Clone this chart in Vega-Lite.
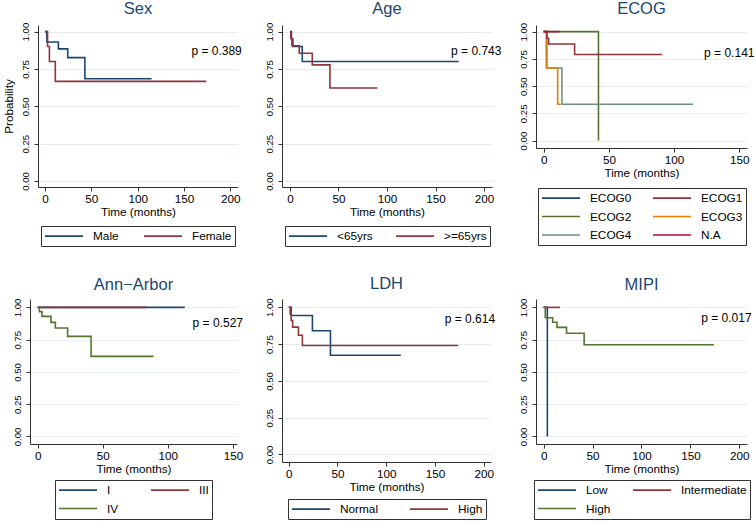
{
  "$schema": "https://vega.github.io/schema/vega-lite/v6.json",
  "padding": {"left": 3, "top": 0, "right": 0, "bottom": 0},
  "background": "white",
  "datasets": {
    "sex": [
      {"g": "Male", "t": 0, "s": 1}, {"g": "Male", "t": 2, "s": 0.93}, {"g": "Male", "t": 14.4, "s": 0.884}, {"g": "Male", "t": 24.5, "s": 0.826}, {"g": "Male", "t": 43, "s": 0.684}, {"g": "Male", "t": 115, "s": 0.684},
      {"g": "Female", "t": 0, "s": 1}, {"g": "Female", "t": 2.7, "s": 0.9}, {"g": "Female", "t": 4.7, "s": 0.8}, {"g": "Female", "t": 11.1, "s": 0.667}, {"g": "Female", "t": 174, "s": 0.667}
    ],
    "age": [
      {"g": "<65yrs", "t": 0, "s": 1}, {"g": "<65yrs", "t": 1.5, "s": 0.95}, {"g": "<65yrs", "t": 3, "s": 0.9}, {"g": "<65yrs", "t": 12.7, "s": 0.8}, {"g": "<65yrs", "t": 174, "s": 0.8},
      {"g": ">=65yrs", "t": 0, "s": 1}, {"g": ">=65yrs", "t": 0.8, "s": 0.955}, {"g": ">=65yrs", "t": 2, "s": 0.905}, {"g": ">=65yrs", "t": 9.6, "s": 0.855}, {"g": ">=65yrs", "t": 23, "s": 0.777}, {"g": ">=65yrs", "t": 41.2, "s": 0.622}, {"g": ">=65yrs", "t": 90, "s": 0.622}
    ],
    "ecog": [
      {"g": "ECOG0", "t": 0, "s": 1}, {"g": "ECOG0", "t": 2, "s": 1},
      {"g": "ECOG2", "t": 0, "s": 1}, {"g": "ECOG2", "t": 42, "s": 0},
      {"g": "ECOG4", "t": 0, "s": 1}, {"g": "ECOG4", "t": 2, "s": 0.667}, {"g": "ECOG4", "t": 14, "s": 0.333}, {"g": "ECOG4", "t": 114.5, "s": 0.333},
      {"g": "ECOG3", "t": 0, "s": 1}, {"g": "ECOG3", "t": 2.5, "s": 0.667}, {"g": "ECOG3", "t": 10.7, "s": 0.333}, {"g": "ECOG3", "t": 13, "s": 0.333},
      {"g": "ECOG1", "t": 0, "s": 1}, {"g": "ECOG1", "t": 2.5, "s": 0.94}, {"g": "ECOG1", "t": 3.8, "s": 0.886}, {"g": "ECOG1", "t": 23.7, "s": 0.79}, {"g": "ECOG1", "t": 90.7, "s": 0.79},
      {"g": "N.A", "t": 0, "s": 1}, {"g": "N.A", "t": 12, "s": 1}
    ],
    "ann": [
      {"g": "I", "t": 0, "s": 1}, {"g": "I", "t": 113, "s": 1},
      {"g": "III", "t": 0, "s": 1}, {"g": "III", "t": 84, "s": 1},
      {"g": "IV", "t": 0, "s": 1}, {"g": "IV", "t": 1.3, "s": 0.967}, {"g": "IV", "t": 3.3, "s": 0.93}, {"g": "IV", "t": 10.2, "s": 0.884}, {"g": "IV", "t": 13.6, "s": 0.84}, {"g": "IV", "t": 23, "s": 0.775}, {"g": "IV", "t": 41, "s": 0.62}, {"g": "IV", "t": 89, "s": 0.62}
    ],
    "ldh": [
      {"g": "Normal", "t": 0, "s": 1}, {"g": "Normal", "t": 2.5, "s": 0.944}, {"g": "Normal", "t": 24.3, "s": 0.84}, {"g": "Normal", "t": 42.8, "s": 0.674}, {"g": "Normal", "t": 115, "s": 0.674},
      {"g": "High", "t": 0, "s": 1}, {"g": "High", "t": 1.5, "s": 0.955}, {"g": "High", "t": 2.5, "s": 0.91}, {"g": "High", "t": 4, "s": 0.865}, {"g": "High", "t": 10, "s": 0.81}, {"g": "High", "t": 14, "s": 0.74}, {"g": "High", "t": 174, "s": 0.74}
    ],
    "mipi": [
      {"g": "Low", "t": 0, "s": 1}, {"g": "Low", "t": 3.8, "s": 0},
      {"g": "Intermediate", "t": 0, "s": 1}, {"g": "Intermediate", "t": 16.6, "s": 1},
      {"g": "High", "t": 0, "s": 1}, {"g": "High", "t": 1.7, "s": 0.92}, {"g": "High", "t": 9.2, "s": 0.885}, {"g": "High", "t": 13.6, "s": 0.845}, {"g": "High", "t": 23.4, "s": 0.8}, {"g": "High", "t": 41.4, "s": 0.71}, {"g": "High", "t": 174, "s": 0.71}
    ]
  },
  "vconcat": [
    {
      "hconcat": [
        {"width": 8, "height": 1, "data": {"values": []}, "mark": "point"},
        {
          "hconcat": [
            {
              "title": "Sex",
              "width": 200, "height": 162,
              "layer": [
                {
                  "data": {"name": "sex"},
                  "mark": {"type": "line", "interpolate": "step-after", "strokeWidth": 1.6},
                  "encoding": {
                    "x": {"field": "t", "type": "quantitative", "scale": {"domain": [-7.6, 208.3], "nice": false, "zero": false}, "axis": {"values": [0, 50, 100, 150, 200], "tickCount": 10, "title": "Time (months)"}},
                    "y": {"field": "s", "type": "quantitative", "scale": {"domain": [-0.04, 1.044], "nice": false, "zero": false}, "axis": {"values": [0, 0.25, 0.5, 0.75, 1], "tickCount": 10, "format": ".2f", "title": "Probability"}},
                    "color": {"field": "g", "type": "nominal", "scale": {"domain": ["Male", "Female"], "range": ["#1a476f", "#90353b"]}, "legend": {"columns": 2, "columnPadding": 21, "offset": 7}}
                  }
                },
                {
                  "data": {"values": [{"t": 158, "s": 0.87, "p": "p = 0.389"}]},
                  "mark": {"type": "text", "align": "left", "baseline": "middle", "fontSize": 12},
                  "encoding": {"x": {"field": "t", "type": "quantitative"}, "y": {"field": "s", "type": "quantitative"}, "text": {"field": "p"}}
                }
              ]
            },
            {
              "title": "Age",
              "width": 210, "height": 162,
              "layer": [
                {
                  "data": {"name": "age"},
                  "mark": {"type": "line", "interpolate": "step-after", "strokeWidth": 1.6},
                  "encoding": {
                    "x": {"field": "t", "type": "quantitative", "scale": {"domain": [-8.2, 208.2], "nice": false, "zero": false}, "axis": {"values": [0, 50, 100, 150, 200], "tickCount": 10, "title": "Time (months)"}},
                    "y": {"field": "s", "type": "quantitative", "scale": {"domain": [-0.04, 1.044], "nice": false, "zero": false}, "axis": {"values": [0, 0.25, 0.5, 0.75, 1], "tickCount": 10, "format": ".2f", "title": null}},
                    "color": {"field": "g", "type": "nominal", "scale": {"domain": ["<65yrs", ">=65yrs"], "range": ["#1a476f", "#90353b"]}, "legend": {"columns": 2, "columnPadding": 19, "offset": 7}}
                  }
                },
                {
                  "data": {"values": [{"t": 166, "s": 0.87, "p": "p = 0.743"}]},
                  "mark": {"type": "text", "align": "left", "baseline": "middle", "fontSize": 12},
                  "encoding": {"x": {"field": "t", "type": "quantitative"}, "y": {"field": "s", "type": "quantitative"}, "text": {"field": "p"}}
                }
              ]
            },
            {
              "title": "ECOG",
              "width": 211, "height": 123,
              "layer": [
                {
                  "data": {"name": "ecog"},
                  "mark": {"type": "line", "interpolate": "step-after", "strokeWidth": 1.6},
                  "encoding": {
                    "x": {"field": "t", "type": "quantitative", "scale": {"domain": [-5.9, 155.9], "nice": false, "zero": false}, "axis": {"values": [0, 50, 100, 150], "tickCount": 10, "title": "Time (months)"}},
                    "y": {"field": "s", "type": "quantitative", "scale": {"domain": [-0.068, 1.061], "nice": false, "zero": false}, "axis": {"values": [0, 0.25, 0.5, 0.75, 1], "tickCount": 10, "format": ".2f", "title": null}},
                    "color": {"field": "g", "type": "nominal", "scale": {"domain": ["ECOG0", "ECOG1", "ECOG2", "ECOG3", "ECOG4", "N.A"], "range": ["#1a476f", "#90353b", "#55752f", "#e37e00", "#6e8e84", "#c10534"]}, "legend": {"columns": 2, "columnPadding": 17, "offset": 8}}
                  }
                },
                {
                  "data": {"values": [{"t": 123, "s": 0.8, "p": "p = 0.141"}]},
                  "mark": {"type": "text", "align": "left", "baseline": "middle", "fontSize": 12},
                  "encoding": {"x": {"field": "t", "type": "quantitative"}, "y": {"field": "s", "type": "quantitative"}, "text": {"field": "p"}}
                }
              ]
            }
          ],
          "spacing": 44,
          "bounds": "flush",
          "resolve": {"scale": {"color": "independent"}, "legend": {"color": "independent"}}
        }
      ],
      "spacing": 0,
      "bounds": "flush",
      "resolve": {"scale": {"color": "independent"}, "legend": {"color": "independent"}}
    },
    {
      "hconcat": [
        {
          "title": "Ann\u2212Arbor",
          "width": 207, "height": 145,
          "layer": [
            {
              "data": {"name": "ann"},
              "mark": {"type": "line", "interpolate": "step-after", "strokeWidth": 1.6},
              "encoding": {
                "x": {"field": "t", "type": "quantitative", "scale": {"domain": [-5.9, 153.1], "nice": false, "zero": false}, "axis": {"values": [0, 50, 100, 150], "tickCount": 10, "title": "Time (months)"}},
                "y": {"field": "s", "type": "quantitative", "scale": {"domain": [-0.059, 1.065], "nice": false, "zero": false}, "axis": {"values": [0, 0.25, 0.5, 0.75, 1], "tickCount": 10, "format": ".2f", "title": null}},
                "color": {"field": "g", "type": "nominal", "scale": {"domain": ["I", "III", "IV"], "range": ["#1a476f", "#90353b", "#55752f"]}, "legend": {"columns": 2, "columnPadding": 28, "offset": 4}}
              }
            },
            {
              "data": {"values": [{"t": 119, "s": 0.88, "p": "p = 0.527"}]},
              "mark": {"type": "text", "align": "left", "baseline": "middle", "fontSize": 12},
              "encoding": {"x": {"field": "t", "type": "quantitative"}, "y": {"field": "s", "type": "quantitative"}, "text": {"field": "p"}}
            }
          ]
        },
        {
          "title": "LDH",
          "width": 209, "height": 163,
          "layer": [
            {
              "data": {"name": "ldh"},
              "mark": {"type": "line", "interpolate": "step-after", "strokeWidth": 1.6},
              "encoding": {
                "x": {"field": "t", "type": "quantitative", "scale": {"domain": [-6.9, 207.5], "nice": false, "zero": false}, "axis": {"values": [0, 50, 100, 150, 200], "tickCount": 10, "title": "Time (months)"}},
                "y": {"field": "s", "type": "quantitative", "scale": {"domain": [-0.051, 1.056], "nice": false, "zero": false}, "axis": {"values": [0, 0.25, 0.5, 0.75, 1], "tickCount": 10, "format": ".2f", "title": null}},
                "color": {"field": "g", "type": "nominal", "scale": {"domain": ["Normal", "High"], "range": ["#1a476f", "#90353b"]}, "legend": {"columns": 2, "columnPadding": 27, "offset": 5}}
              }
            },
            {
              "data": {"values": [{"t": 160, "s": 0.917, "p": "p = 0.614"}]},
              "mark": {"type": "text", "align": "left", "baseline": "middle", "fontSize": 12},
              "encoding": {"x": {"field": "t", "type": "quantitative"}, "y": {"field": "s", "type": "quantitative"}, "text": {"field": "p"}}
            }
          ]
        },
        {
          "title": "MIPI",
          "width": 211, "height": 145,
          "layer": [
            {
              "data": {"name": "mipi"},
              "mark": {"type": "line", "interpolate": "step-after", "strokeWidth": 1.6},
              "encoding": {
                "x": {"field": "t", "type": "quantitative", "scale": {"domain": [-7.8, 207.8], "nice": false, "zero": false}, "axis": {"values": [0, 50, 100, 150, 200], "tickCount": 10, "title": "Time (months)"}},
                "y": {"field": "s", "type": "quantitative", "scale": {"domain": [-0.059, 1.065], "nice": false, "zero": false}, "axis": {"values": [0, 0.25, 0.5, 0.75, 1], "tickCount": 10, "format": ".2f", "title": null}},
                "color": {"field": "g", "type": "nominal", "scale": {"domain": ["Low", "Intermediate", "High"], "range": ["#1a476f", "#90353b", "#55752f"]}, "legend": {"columns": 2, "columnPadding": 18, "offset": 4}}
              }
            },
            {
              "data": {"values": [{"t": 161, "s": 0.92, "p": "p = 0.017"}]},
              "mark": {"type": "text", "align": "left", "baseline": "middle", "fontSize": 12},
              "encoding": {"x": {"field": "t", "type": "quantitative"}, "y": {"field": "s", "type": "quantitative"}, "text": {"field": "p"}}
            }
          ]
        }
      ],
      "spacing": 45,
      "bounds": "flush",
      "resolve": {"scale": {"color": "independent"}, "legend": {"color": "independent"}}
    }
  ],
  "spacing": 29,
  "resolve": {"scale": {"color": "independent"}, "legend": {"color": "independent"}},
  "config": {
    "font": "Liberation Sans",
    "view": {"stroke": null},
    "text": {"font": "Liberation Sans", "color": "#000"},
    "title": {"font": "Liberation Sans", "fontSize": 16.5, "fontWeight": "normal", "color": "#1a476f", "anchor": "middle", "frame": "group", "offset": 5},
    "axis": {
      "domainColor": "#333", "tickColor": "#333", "labelColor": "#000", "titleColor": "#000",
      "labelFont": "Liberation Sans", "titleFont": "Liberation Sans", "titleFontWeight": "normal",
      "gridColor": "#e4eef0", "tickSize": 4, "domainWidth": 1, "tickWidth": 1,
      "labelOverlap": false, "labelFlush": false
    },
    "axisX": {"grid": false, "labelFontSize": 11.7, "titleFontSize": 11.7, "labelPadding": 2, "titlePadding": 2},
    "axisY": {"grid": true, "labelFontSize": 9.6, "titleFontSize": 11.7, "labelAngle": -90, "labelAlign": "center", "labelBaseline": "bottom", "labelPadding": 4, "titlePadding": 6},
    "legend": {
      "orient": "bottom", "title": null, "symbolType": "M-1,0H5.333", "symbolSize": 144, "symbolStrokeWidth": 1.6,
      "labelFont": "Liberation Sans", "labelFontSize": 11.8, "labelColor": "#000", "labelOffset": 35,
      "strokeColor": "#333", "padding": 3, "offset": 4, "rowPadding": 4.5,
      "layout": {"bottom": {"anchor": "middle"}}
    }
  }
}
